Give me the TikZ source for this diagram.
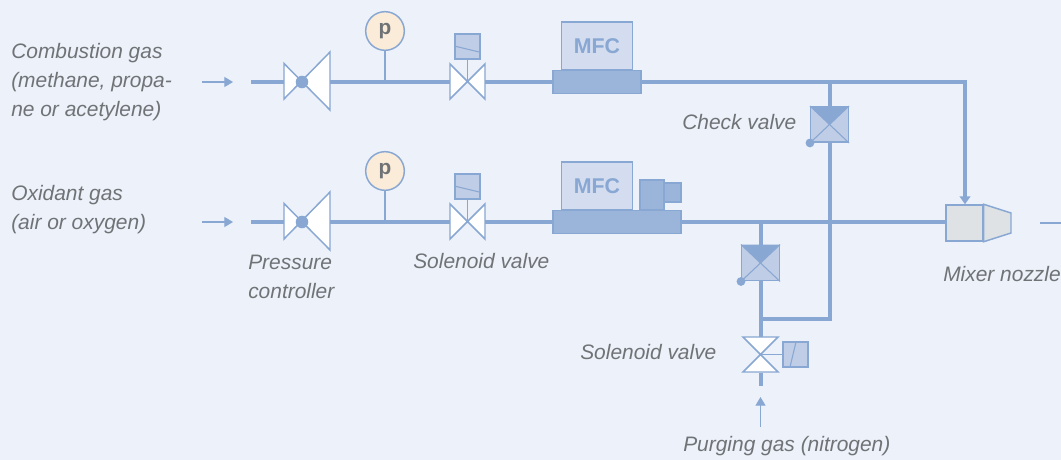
\documentclass[tikz,border=0pt]{standalone}
\usepackage{fontspec}
\setmainfont{Liberation Sans}
\usetikzlibrary{arrows.meta}
\definecolor{bgblue}{HTML}{ECF1FA}
\definecolor{pipeblue}{HTML}{88A7D2}
\definecolor{baseblue}{HTML}{9BB4D9}
\definecolor{topblue}{HTML}{D4DDF0}
\definecolor{boxblue}{HTML}{C0CDE6}
\definecolor{gaugefill}{HTML}{FBEBD9}
\definecolor{nozzlegrey}{HTML}{DEE2E4}
\definecolor{labelgrey}{HTML}{707376}
\tikzset{
    pipe/.style={draw=pipeblue, line width=3pt},
    thinline/.style={draw=pipeblue, line width=1.1pt},
    flow/.style={draw=pipeblue, line width=0.8pt, -{Triangle[length=6.5pt,width=7.5pt]}},
    feed/.style={draw=pipeblue, line width=3pt, -{Triangle[length=6pt,width=8pt]}},
    valveshape/.style={draw=pipeblue, line width=1.1pt, fill=white, line join=miter},
    gaslabel/.style={font=\fontsize{15.7}{21.7}\selectfont\itshape, text=labelgrey, anchor=west, align=left, inner sep=0pt},
    mfctop/.style={draw=pipeblue, line width=1.1pt, fill=topblue, minimum width=53.6pt, minimum height=36pt, inner sep=0pt,
        font=\fontsize{16}{18}\selectfont\bfseries, text=pipeblue},
    mfcbase/.style={draw=pipeblue, line width=1.1pt, fill=baseblue, minimum height=17.2pt, inner sep=0pt},
    unitbox/.style={draw=pipeblue, line width=1.1pt, fill=baseblue, inner sep=0pt},
    gauge/.style={circle, draw=pipeblue, line width=1.1pt, fill=gaugefill, minimum size=29pt, inner sep=0pt,
        font=\fontsize{15.6}{18}\selectfont\bfseries, text=labelgrey},
    coil/.style={draw=pipeblue, line width=1.1pt, fill=boxblue, minimum size=18.8pt, inner sep=0pt},
    checkbox/.style={draw=pipeblue, line width=1.1pt, fill=boxblue, minimum width=28.2pt, minimum height=26.6pt, inner sep=0pt},
    dot/.style={circle, fill=pipeblue, inner sep=0pt}
}
\begin{document}
\begin{tikzpicture}[x=0.75pt,y=-0.75pt]
    \useasboundingbox[fill=bgblue] (0,0) rectangle (1061,460);

    % Two gas lines
    \foreach \row/\yy in {a/82,b/222}{
        \coordinate (in\row) at (251,\yy);
        \coordinate (regl\row) at (284,\yy);
        \coordinate (regr\row) at (330,\yy);
        \coordinate (vall\row) at (450,\yy);
        \coordinate (valr\row) at (485,\yy);
        \coordinate (tee\row) at (385,\yy);
        \coordinate (valc\row) at (467.5,\yy);
        \coordinate (arrs\row) at (202,\yy);
        \coordinate (arre\row) at (233,\yy);
        % Pressure controller
        \draw[valveshape] (284,\yy-18.5) -- (284,\yy+17) -- (330,\yy-30) -- (330,\yy+28) -- cycle;
        \node[dot, minimum size=9.4pt] (regdot\row) at (302,\yy) {};
        % Gauge
        \node[gauge] (gauge\row) at (385,\yy-51) {p};
        \draw[thinline] (gauge\row) -- (tee\row);
        % Solenoid valve
        \draw[valveshape] (450,\yy-18) -- (450,\yy+17) -- (485,\yy-18) -- (485,\yy+17) -- cycle;
        \node[coil] (coil\row) at (467.5,\yy-35.5) {};
        \draw[thinline] (coil\row.south) -- (valc\row);
        \draw[pipeblue, line width=0.8pt] (coil\row.west) ++(0,-0.5) -- ++(25,6);
        % Pipe pieces and feed arrow
        \draw[flow] (arrs\row) -- (arre\row);
        \draw[pipe] (in\row) -- (regl\row);
        \draw[pipe] (regr\row) -- (vall\row);
    }

    % MFC units
    \node[mfcbase, minimum width=66pt] (basea) at (597,82) {};
    \node[mfctop] (mfca) at (597,46) {MFC};
    \node[mfcbase, minimum width=96pt] (baseb) at (617,222) {};
    \node[mfctop] (mfcb) at (597,186) {MFC};
    \node[unitbox, minimum width=18pt, minimum height=22.5pt] (motor) at (652,195) {};
    \node[unitbox, minimum width=12.8pt, minimum height=14pt] (motorend) at (672.5,192.5) {};
    \draw[pipe] (valra) -- (basea.west);
    \draw[pipe] (valrb) -- (baseb.west);

    % Junctions
    \coordinate (teetop) at (829.5,82);
    \coordinate (bend) at (965,82);
    \coordinate (teelow) at (760.5,222);
    \coordinate (corner) at (829.5,319);
    \coordinate (teepurge) at (760.5,319);

    % Mixer nozzle
    \node[draw=pipeblue, line width=1.1pt, fill=nozzlegrey, minimum width=27.6pt, minimum height=27pt, inner sep=0pt] (mixer) at (964.5,223) {};
    \draw[thinline, fill=nozzlegrey] (mixer.north east) -- (1011,213) -- (1011,233) -- (mixer.south east) -- cycle;
    \coordinate (outs) at (1040,223);
    \coordinate (oute) at (1061,223);
    \draw[thinline] (outs) -- (oute);

    % Check valves
    \node[checkbox] (checka) at (829.5,124.5) {};
    \node[checkbox] (checkb) at (760.5,263) {};
    \foreach \c in {checka,checkb}{
        \fill[pipeblue] (\c.north west) -- (\c.north east) -- (\c.center) -- cycle;
        \draw[pipeblue, line width=0.8pt] (\c.north west) -- (\c.south east);
        \draw[pipeblue, line width=0.8pt] (\c.north east) -- (\c.south west);
        \node[dot, minimum size=6.6pt] (\c dot) at (\c.south west) {};
    }

    % Purge solenoid valve
    \coordinate (purgetop) at (760.5,337);
    \coordinate (purgemid) at (760.5,354.5);
    \coordinate (purgelow) at (760.5,373);
    \coordinate (purgeend) at (760.5,386);
    \coordinate (purgearrs) at (760.5,427);
    \coordinate (purgearre) at (760.5,397);
    \draw[valveshape] (743,337) -- (778,337) -- (743,372) -- (778,372) -- cycle;
    \node[coil] (coilc) at (795.5,354.5) {};
    \draw[thinline] (purgemid) -- (coilc.west);
    \draw[pipeblue, line width=0.8pt] (790,367) -- (796,342);

    % Main pipes
    \draw[feed] (basea.east) -- (bend) -- (bend |- mixer.north);
    \draw[pipe] (teetop) -- (checka.north);
    \draw[pipe] (checka.south) -- (corner) -- (teepurge);
    \draw[pipe] (baseb.east) -- (baseb.east -| mixer.west);
    \draw[pipe] (teelow) -- (checkb.north);
    \draw[pipe] (checkb.south) -- (purgetop);
    \draw[pipe] (purgelow) -- (purgeend);
    \draw[flow] (purgearrs) -- (purgearre);

    % Labels
    \node[gaslabel] (lblcomb) at (11,82) {Combustion gas\\(methane, propa-\\ne or acetylene)};
    \node[gaslabel] (lbloxid) at (11,210) {Oxidant gas\\(air or oxygen)};
    \node[gaslabel] (lblpres) at (248,277) {Pressure\\controller};
    \node[gaslabel] (lblsola) at (413,261) {Solenoid valve};
    \node[gaslabel] (lblsolb) at (580,352) {Solenoid valve};
    \node[gaslabel] (lblcheck) at (682,122) {Check valve};
    \node[gaslabel] (lblmix) at (943,274) {Mixer nozzle};
    \node[gaslabel] (lblpurge) at (683,446) {Purging gas (nitrogen)};
\end{tikzpicture}
\end{document}
